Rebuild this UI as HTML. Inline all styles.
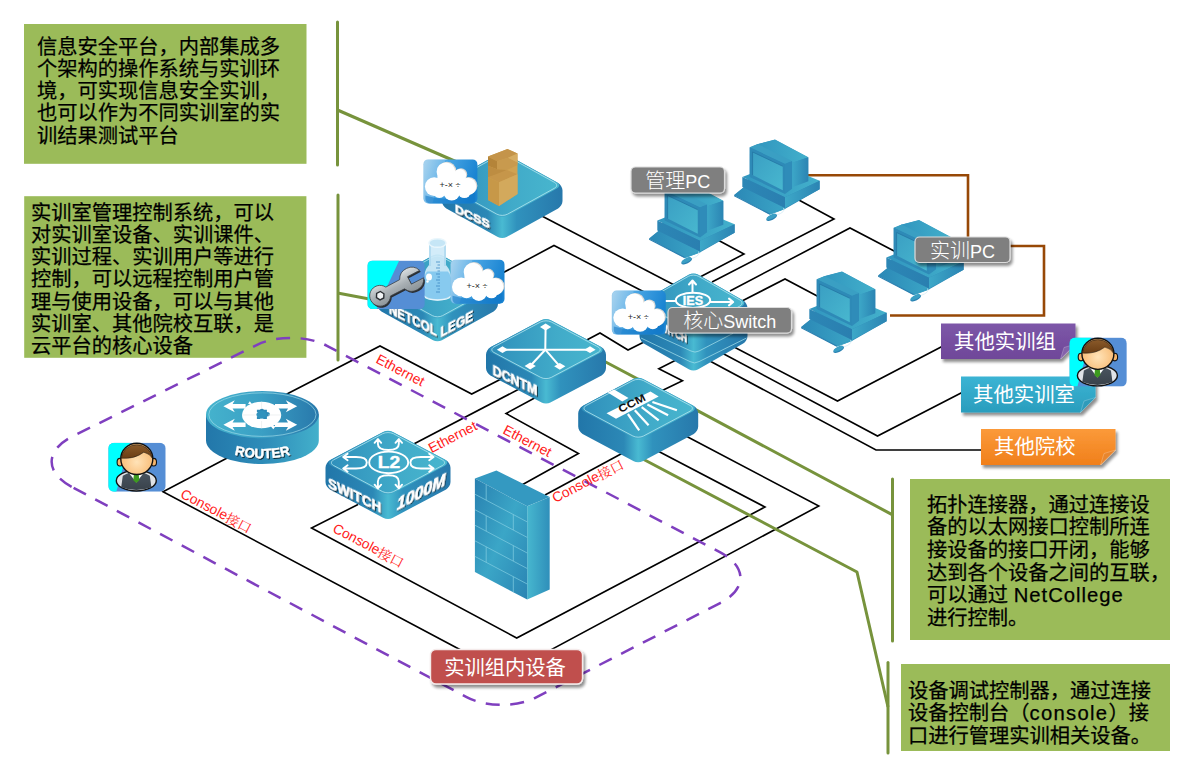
<!DOCTYPE html>
<html lang="zh"><head><meta charset="utf-8"><title>实训室拓扑</title>
<style>
html,body{margin:0;padding:0;background:#fff;}
body{width:1200px;height:780px;overflow:hidden;}
svg{display:block;}
text{font-family:"Liberation Sans","Noto Sans CJK SC",sans-serif;}
.cj{font-family:"Liberation Sans","Noto Sans CJK SC",sans-serif;}
.bd{font-family:"Liberation Sans",sans-serif;font-weight:bold;fill:#fff;}
</style></head><body>
<svg width="1200" height="780" viewBox="0 0 1200 780">
<defs>
<linearGradient id="gTop" x1="0" y1="0" x2="1" y2="0"><stop offset="0" stop-color="#2f8fbb"/><stop offset="0.6" stop-color="#41abc9"/><stop offset="1" stop-color="#48b6ce"/></linearGradient>
<linearGradient id="gSide" x1="0" y1="0" x2="1" y2="0"><stop offset="0" stop-color="#2176a9"/><stop offset="0.38" stop-color="#2c88b6"/><stop offset="0.5" stop-color="#49bad2"/><stop offset="0.62" stop-color="#3092bd"/><stop offset="1" stop-color="#2778ab"/></linearGradient>
<linearGradient id="gCloud" x1="0" y1="0" x2="1" y2="0.3"><stop offset="0" stop-color="#7fb9e6"/><stop offset="0.5" stop-color="#3e9ade"/><stop offset="1" stop-color="#1b80cc"/></linearGradient>
<linearGradient id="gPurple" x1="0" y1="0" x2="0" y2="1"><stop offset="0" stop-color="#7d57a8"/><stop offset="1" stop-color="#6f4799"/></linearGradient>
<linearGradient id="gTeal" x1="0" y1="0" x2="0" y2="1"><stop offset="0" stop-color="#3bb4d4"/><stop offset="1" stop-color="#2a9dbd"/></linearGradient>
<linearGradient id="gOrange" x1="0" y1="0" x2="0" y2="1"><stop offset="0" stop-color="#fb9a3a"/><stop offset="1" stop-color="#f07f1a"/></linearGradient>
<filter id="sh" x="-20%" y="-20%" width="150%" height="170%"><feGaussianBlur in="SourceAlpha" stdDeviation="1.6"/><feOffset dx="1.5" dy="2.5"/><feComponentTransfer><feFuncA type="linear" slope="0.45"/></feComponentTransfer><feMerge><feMergeNode/><feMergeNode in="SourceGraphic"/></feMerge></filter>
<filter id="tsh" x="-10%" y="-10%" width="130%" height="140%"><feGaussianBlur in="SourceAlpha" stdDeviation="0.45"/><feOffset dx="1" dy="0.9"/><feComponentTransfer><feFuncA type="linear" slope="0.75"/></feComponentTransfer><feMerge><feMergeNode/><feMergeNode in="SourceGraphic"/></feMerge></filter>
</defs>
<rect width="1200" height="780" fill="#fff"/>
<polyline points="538.0,214.0 680.0,288.0" fill="none" stroke="#000" stroke-width="1.6" stroke-linejoin="miter"/>
<polyline points="495.0,277.0 554.0,245.5 650.0,295.0" fill="none" stroke="#000" stroke-width="1.6" stroke-linejoin="miter"/>
<polyline points="285.0,395.0 380.0,346.0 471.7,394.0 505.0,377.0" fill="none" stroke="#000" stroke-width="1.6" stroke-linejoin="miter"/>
<polyline points="408.0,447.0 521.0,388.0" fill="none" stroke="#000" stroke-width="1.6" stroke-linejoin="miter"/>
<polyline points="520.0,486.0 578.5,453.5 506.0,413.5 542.0,394.0" fill="none" stroke="#000" stroke-width="1.6" stroke-linejoin="miter"/>
<polyline points="545.0,495.0 632.0,448.0" fill="none" stroke="#000" stroke-width="1.6" stroke-linejoin="miter"/>
<polyline points="682.0,357.0 658.8,368.8 682.5,380.8 655.0,394.0" fill="none" stroke="#000" stroke-width="1.6" stroke-linejoin="miter"/>
<polyline points="583.0,342.0 600.0,333.0 628.0,350.0 648.0,340.0" fill="none" stroke="#000" stroke-width="1.6" stroke-linejoin="miter"/>
<polyline points="716.0,239.0 744.0,254.0 700.0,277.0" fill="none" stroke="#000" stroke-width="1.6" stroke-linejoin="miter"/>
<polyline points="797.0,199.0 834.0,219.0 712.0,282.0" fill="none" stroke="#000" stroke-width="1.6" stroke-linejoin="miter"/>
<polyline points="896.0,252.0 850.0,228.0 730.0,291.0" fill="none" stroke="#000" stroke-width="1.6" stroke-linejoin="miter"/>
<polyline points="820.0,297.5 785.0,279.0 742.0,301.0" fill="none" stroke="#000" stroke-width="1.6" stroke-linejoin="miter"/>
<polyline points="735.0,347.5 837.5,401.0 942.0,346.5" fill="none" stroke="#000" stroke-width="1.6" stroke-linejoin="miter"/>
<polyline points="722.0,353.0 877.5,436.0 962.0,392.5" fill="none" stroke="#000" stroke-width="1.6" stroke-linejoin="miter"/>
<polyline points="708.0,360.0 876.0,450.0 982.0,450.0" fill="none" stroke="#000" stroke-width="1.6" stroke-linejoin="miter"/>
<polyline points="358.0,504.5 311.5,528.0 516.7,638.0 765.0,507.0 655.0,449.5" fill="none" stroke="#000" stroke-width="1.6" stroke-linejoin="miter"/>
<polyline points="230.0,456.5 163.0,491.7 506.0,674.0 818.8,506.0 684.0,435.0" fill="none" stroke="#000" stroke-width="1.6" stroke-linejoin="miter"/>
<polyline points="808,175.3 968,175.3 968,240" fill="none" stroke="#974806" stroke-width="2.6"/>
<polyline points="1008,246 1044,246 1044,315.5 890,315.5" fill="none" stroke="#974806" stroke-width="2.6"/>
<polyline points="337.5,110.0 458.0,162.5" fill="none" stroke="#77933c" stroke-width="3" stroke-linejoin="round"/>
<polyline points="337.5,293.0 372.0,299.5" fill="none" stroke="#77933c" stroke-width="3" stroke-linejoin="round"/>
<polyline points="600.0,359.0 697.9,410.9 892.1,514.6" fill="none" stroke="#77933c" stroke-width="3" stroke-linejoin="round"/>
<polyline points="640.0,457.5 857.0,572.0 888.0,707.0" fill="none" stroke="#77933c" stroke-width="3" stroke-linejoin="round"/>
<g id="dcss"><path d="M497.8,154.4 C500.2,153.1 504.2,153.1 506.6,154.4 L558.1,182.9 C560.5,184.2 562.5,187.5 562.5,190.3 L562.5,201.1 C562.5,203.9 560.5,207.2 558.1,208.5 L506.6,237.0 C504.2,238.3 500.2,238.3 497.8,237.0 L446.3,208.5 C443.9,207.2 441.9,203.9 441.9,201.1 L441.9,190.3 C441.9,187.5 443.9,184.2 446.3,182.9 Z" fill="url(#gSide)"/><path d="M496.5,155.1 C499.7,153.4 504.7,153.4 507.9,155.1 L556.8,182.2 C560.0,183.9 560.0,186.7 556.8,188.4 L507.9,215.5 C504.7,217.2 499.7,217.2 496.5,215.5 L447.6,188.4 C444.4,186.7 444.4,183.9 447.6,182.2 Z" fill="url(#gTop)"/><path d="M496.9,156.4 C499.8,154.8 504.6,154.8 507.5,156.4 L554.5,182.4 C557.4,184.0 557.4,186.6 554.5,188.2 L507.5,214.2 C504.6,215.8 499.8,215.8 496.9,214.2 L449.9,188.2 C447.0,186.6 447.0,184.0 449.9,182.4 Z" fill="none" stroke="#b4e6f0" stroke-width="1" opacity="0.8"/></g>
<g id="netcollege"><path d="M433.1,255.4 C435.5,254.1 439.5,254.1 441.9,255.4 L493.6,284.1 C496.0,285.4 498.0,288.7 498.0,291.5 L498.0,304.1 C498.0,306.9 496.0,310.2 493.6,311.5 L441.9,340.2 C439.5,341.5 435.5,341.5 433.1,340.2 L381.4,311.5 C379.0,310.2 377.0,306.9 377.0,304.1 L377.0,291.5 C377.0,288.7 379.0,285.4 381.4,284.1 Z" fill="url(#gSide)"/><path d="M431.8,256.1 C435.0,254.4 440.0,254.4 443.2,256.1 L492.3,283.4 C495.5,285.1 495.5,287.9 492.3,289.6 L443.2,316.9 C440.0,318.6 435.0,318.6 431.8,316.9 L382.7,289.6 C379.5,287.9 379.5,285.1 382.7,283.4 Z" fill="url(#gTop)"/><path d="M432.3,257.4 C435.2,255.8 439.8,255.8 442.7,257.4 L490.0,283.6 C492.9,285.2 492.9,287.8 490.0,289.4 L442.7,315.6 C439.8,317.2 435.2,317.2 432.3,315.6 L385.0,289.4 C382.1,287.8 382.1,285.2 385.0,283.6 Z" fill="none" stroke="#b4e6f0" stroke-width="1" opacity="0.8"/></g>
<g id="dcntm"><path d="M541.6,320.1 C544.0,318.8 548.0,318.8 550.4,320.1 L601.6,347.3 C604.0,348.6 606.0,351.9 606.0,354.7 L606.0,368.0 C606.0,370.8 604.0,374.1 601.6,375.4 L550.4,402.6 C548.0,403.9 544.0,403.9 541.6,402.6 L490.4,375.4 C488.0,374.1 486.0,370.8 486.0,368.0 L486.0,354.7 C486.0,351.9 488.0,348.6 490.4,347.3 Z" fill="url(#gSide)"/><path d="M540.3,320.8 C543.4,319.1 548.6,319.1 551.7,320.8 L600.3,346.6 C603.4,348.3 603.4,351.1 600.3,352.8 L551.7,378.6 C548.6,380.3 543.4,380.3 540.3,378.6 L491.7,352.8 C488.6,351.1 488.6,348.3 491.7,346.6 Z" fill="url(#gTop)"/><path d="M540.7,322.0 C543.6,320.4 548.4,320.4 551.3,322.0 L598.0,346.9 C600.9,348.4 600.9,351.0 598.0,352.5 L551.3,377.4 C548.4,379.0 543.6,379.0 540.7,377.4 L494.0,352.5 C491.1,351.0 491.1,348.4 494.0,346.9 Z" fill="none" stroke="#b4e6f0" stroke-width="1" opacity="0.8"/></g>
<g id="ccm"><path d="M633.8,378.7 C636.2,377.4 640.2,377.4 642.6,378.7 L693.8,405.9 C696.2,407.2 698.2,410.5 698.2,413.3 L698.2,426.6 C698.2,429.4 696.2,432.7 693.8,434.0 L642.6,461.2 C640.2,462.5 636.2,462.5 633.8,461.2 L582.6,434.0 C580.2,432.7 578.2,429.4 578.2,426.6 L578.2,413.3 C578.2,410.5 580.2,407.2 582.6,405.9 Z" fill="url(#gSide)"/><path d="M632.5,379.4 C635.6,377.7 640.8,377.7 643.9,379.4 L692.5,405.2 C695.6,406.9 695.6,409.7 692.5,411.4 L643.9,437.2 C640.8,438.9 635.6,438.9 632.5,437.2 L583.9,411.4 C580.8,409.7 580.8,406.9 583.9,405.2 Z" fill="url(#gTop)"/><path d="M632.9,380.6 C635.8,379.0 640.6,379.0 643.5,380.6 L690.2,405.5 C693.1,407.0 693.1,409.6 690.2,411.1 L643.5,436.0 C640.6,437.6 635.8,437.6 632.9,436.0 L586.2,411.1 C583.3,409.6 583.3,407.0 586.2,405.5 Z" fill="none" stroke="#b4e6f0" stroke-width="1" opacity="0.8"/></g>
<g id="core"><path d="M689.2,274.5 C691.6,273.1 695.4,273.1 697.8,274.5 L743.2,300.5 C745.6,301.9 747.5,305.2 747.5,308.0 L747.5,336.0 C747.5,338.8 745.6,342.1 743.2,343.5 L697.8,369.5 C695.4,370.9 691.6,370.9 689.2,369.5 L643.8,343.5 C641.4,342.1 639.5,338.8 639.5,336.0 L639.5,308.0 C639.5,305.2 641.4,301.9 643.8,300.5 Z" fill="url(#gSide)"/><path d="M687.9,275.2 C691.0,273.4 696.0,273.4 699.1,275.2 L741.9,299.8 C745.0,301.6 745.0,304.4 741.9,306.2 L699.1,330.8 C696.0,332.6 691.0,332.6 687.9,330.8 L645.1,306.2 C642.0,304.4 642.0,301.6 645.1,299.8 Z" fill="url(#gTop)"/><path d="M688.3,276.4 C691.2,274.7 695.8,274.7 698.7,276.4 L739.9,300.0 C742.7,301.7 742.7,304.3 739.9,306.0 L698.7,329.6 C695.8,331.3 691.2,331.3 688.3,329.6 L647.1,306.0 C644.3,304.3 644.3,301.7 647.1,300.0 Z" fill="none" stroke="#b4e6f0" stroke-width="1" opacity="0.8"/></g>
<g id="l2"><path d="M383.6,431.8 C386.0,430.5 390.0,430.5 392.4,431.8 L446.1,460.3 C448.5,461.6 450.5,464.9 450.5,467.7 L450.5,482.0 C450.5,484.8 448.5,488.1 446.1,489.4 L392.4,517.9 C390.0,519.2 386.0,519.2 383.6,517.9 L329.9,489.4 C327.5,488.1 325.5,484.8 325.5,482.0 L325.5,467.7 C325.5,464.9 327.5,461.6 329.9,460.3 Z" fill="url(#gSide)"/><path d="M382.3,432.5 C385.4,430.8 390.6,430.8 393.7,432.5 L444.8,459.6 C447.9,461.3 447.9,464.1 444.8,465.8 L393.7,492.9 C390.6,494.6 385.4,494.6 382.3,492.9 L331.2,465.8 C328.1,464.1 328.1,461.3 331.2,459.6 Z" fill="url(#gTop)"/><path d="M382.7,433.7 C385.6,432.2 390.4,432.2 393.3,433.7 L442.4,459.9 C445.3,461.4 445.3,464.0 442.4,465.5 L393.3,491.7 C390.4,493.2 385.6,493.2 382.7,491.7 L333.6,465.5 C330.7,464.0 330.7,461.4 333.6,459.9 Z" fill="none" stroke="#b4e6f0" stroke-width="1" opacity="0.8"/></g>
<defs><linearGradient id="gRT" x1="0" y1="0" x2="1" y2="0"><stop offset="0" stop-color="#45b3cd"/><stop offset="0.5" stop-color="#3a9fc4"/><stop offset="1" stop-color="#2878ab"/></linearGradient>
<linearGradient id="gRS" x1="0" y1="0" x2="1" y2="0"><stop offset="0" stop-color="#2277aa"/><stop offset="0.55" stop-color="#2f8eba"/><stop offset="1" stop-color="#43b0cb"/></linearGradient></defs>
<g id="router"><path d="M206,414.6 v26 a56.4,23.5 0 0 0 112.8,0 v-26 z" fill="url(#gRS)"/>
<ellipse cx="262.4" cy="414.6" rx="56.4" ry="23.6" fill="url(#gRT)"/>
<ellipse cx="262.4" cy="414.6" rx="53.6" ry="21.8" fill="none" stroke="#a6e0ec" stroke-width="0.9" opacity="0.7"/></g>
<defs>
<linearGradient id="gScr" x1="0" y1="0" x2="1" y2="1"><stop offset="0" stop-color="#3a9fc3"/><stop offset="1" stop-color="#48b7cf"/></linearGradient>
<linearGradient id="gPcR" x1="0" y1="0" x2="1" y2="0"><stop offset="0" stop-color="#3da8c8"/><stop offset="1" stop-color="#2b84b3"/></linearGradient>
<linearGradient id="gPcL" x1="0" y1="0" x2="1" y2="0"><stop offset="0" stop-color="#2c86b5"/><stop offset="1" stop-color="#2a7fb0"/></linearGradient>
<linearGradient id="gPcT" x1="0" y1="0" x2="1" y2="0"><stop offset="0" stop-color="#3196bf"/><stop offset="1" stop-color="#43b0cb"/></linearGradient>
<linearGradient id="gKb" x1="0" y1="0" x2="1" y2="0"><stop offset="0" stop-color="#2b88b6"/><stop offset="1" stop-color="#3ba5c6"/></linearGradient>
<g id="pc">
<polygon points="70,489 138,434 186,333 186,131 244,106 375,73 624,206 624,383 709,381 709,444 452,591 336,634" fill="#2f8cb9"/>
<polygon points="68,488 140,430 452,584 335,627" fill="url(#gKb)"/>
<polygon points="68,488 335,627 335,636 68,497" fill="#2a7fb0"/>
<polygon points="335,627 452,584 452,592 335,636" fill="#3aa2c4"/>
<polygon points="130,352 390,250 710,380 450,505" fill="url(#gPcT)"/>
<polygon points="130,352 450,505 450,585 130,428" fill="url(#gPcL)"/>
<polygon points="450,505 710,380 710,445 450,585" fill="url(#gPcR)"/>
<polygon points="240,107 375,72 625,205 500,250" fill="url(#gPcT)"/>
<polygon points="500,245 625,205 625,385 500,432" fill="url(#gPcR)"/>
<polygon points="185,130 245,105 503,232 450,255" fill="#3a9fc3"/>
<polygon points="450,255 503,232 503,440 450,480" fill="#2f8cb9"/>
<polygon points="185,130 450,255 450,480 185,352" fill="#2e8ab7"/>
<polygon points="207,165 433,272 433,452 207,338" fill="url(#gScr)"/>
<polyline points="207,338 207,165 433,272" fill="none" stroke="#1f6f9f" stroke-width="5"/>
<path d="M440,585 q15,30 -50,52" fill="none" stroke="#d6ecf5" stroke-width="6"/>
<ellipse cx="350" cy="657" rx="44" ry="19" transform="rotate(-27 350 657)" fill="#2a82b2"/>
<ellipse cx="348" cy="651" rx="40" ry="15" transform="rotate(-27 348 651)" fill="#3a9fc4"/>
</g>
<linearGradient id="gFwF" x1="0" y1="0" x2="1" y2="1"><stop offset="0" stop-color="#2880b0"/><stop offset="0.5" stop-color="#3ba6c7"/><stop offset="1" stop-color="#2a84b3"/></linearGradient>
<linearGradient id="gFwR" x1="0" y1="0" x2="1" y2="0"><stop offset="0" stop-color="#47b7cf"/><stop offset="1" stop-color="#2f8fba"/></linearGradient>
</defs>
<use href="#pc" transform="translate(725,130) scale(0.13333)"/>
<use href="#pc" transform="translate(640,173.5) scale(0.13333)"/>
<use href="#pc" transform="translate(869,210.5) scale(0.13333)"/>
<use href="#pc" transform="translate(792,262) scale(0.13333)"/>
<g id="firewall"><polygon points="474.9,478.6 496.4,470.4 549.7,497 527.2,506.3" fill="#3499c1"/><polygon points="527.2,506.3 549.7,497 549.7,589.4 527.2,599.6" fill="url(#gFwR)"/><polygon points="474.9,478.6 527.2,506.3 527.2,599.6 474.9,571.9" fill="url(#gFwF)"/><path d="M474.9,494.2 L527.2,521.9 M474.9,509.7 L527.2,537.4 M474.9,525.2 L527.2,553.0 M474.9,540.8 L527.2,568.5 M474.9,556.4 L527.2,584.0 M486.2,484.6 v15.5 M513.3,514.5 v15.5 M486.2,515.7 v15.5 M513.3,545.6 v15.5 M486.2,546.8 v15.5 M513.3,576.7 v15.5 " fill="none" stroke="#86d0e3" stroke-width="0.8" opacity="0.85"/></g>
<defs>
<linearGradient id="gCl" x1="0" y1="0" x2="1" y2="0.25"><stop offset="0" stop-color="#9ccdec"/><stop offset="0.42" stop-color="#4aa6e4"/><stop offset="1" stop-color="#1a84d2"/></linearGradient>
<g id="cloud">
<rect width="54" height="44" rx="4.8" fill="url(#gCl)"/>
<path d="M0.4,5 a4.6,4.6 0 0 1 4.6,-4.6 h17 L9,43.6 h-4 a4.6,4.6 0 0 1 -4.6,-4.6 z" fill="#fff" opacity="0.16"/>
<path d="M2,36 q25,8 50,-3 v6.5 a4.5,4.5 0 0 1 -4.5,4.5 h-41 a4.5,4.5 0 0 1 -4.5,-4.5 z" fill="#0f74c4" opacity="0.55"/>
<g fill="#dcdad6" transform="translate(1.1,-0.7)"><circle cx="22.5" cy="12.3" r="9.3"/><circle cx="36.5" cy="15.8" r="6.2"/><circle cx="44.3" cy="27" r="8.6"/></g>
<g fill="#fff"><circle cx="22.5" cy="12.3" r="9.3"/><circle cx="36.5" cy="15.8" r="6.2"/><circle cx="10.8" cy="27.2" r="9.3"/><circle cx="44.3" cy="27" r="8.6"/><circle cx="16" cy="32" r="6.6"/><circle cx="28.3" cy="33.2" r="8"/><circle cx="41" cy="32.2" r="6.4"/><rect x="14" y="16" width="28" height="20"/></g>
<text x="26.5" y="29" font-size="9" text-anchor="middle" fill="#2a2a2a" font-family="Liberation Sans, sans-serif">+-× ÷</text>
</g>
<linearGradient id="gWr" x1="0" y1="0" x2="0" y2="1"><stop offset="0" stop-color="#d9dee0"/><stop offset="0.5" stop-color="#a9b0b4"/><stop offset="1" stop-color="#8a9297"/></linearGradient>
<clipPath id="cpIc"><rect width="57.4" height="48.5" rx="5.2"/></clipPath>
<g id="wrench">
<g clip-path="url(#cpIc)"><rect width="57.4" height="48.5" fill="#558ed5"/><polygon points="0,0 31.8,0 9.1,48.5 0,48.5" fill="#00ffff"/></g>
<g transform="translate(12.8,35.1) rotate(-27.6)">
<path transform="translate(0.4,1.9)" d="M9,-5 L24.69,-5.2 A12,12 0 0 1 46.74,-4.2 L33,-4.2 L33,4.2 L46.74,4.2 A12,12 0 0 1 24.69,5.2 L9,5 A10.4,10.4 0 1 1 9,-5 Z" fill="#2b2f33"/>
<path d="M9,-5 L24.69,-5.2 A12,12 0 0 1 46.74,-4.2 L33,-4.2 L33,4.2 L46.74,4.2 A12,12 0 0 1 24.69,5.2 L9,5 A10.4,10.4 0 1 1 9,-5 Z" fill="url(#gWr)" stroke="#3a3f44" stroke-width="0.7"/>
<polygon points="4.2,0 2.1,3.65 -2.1,3.65 -4.2,0 -2.1,-3.65 2.1,-3.65" fill="#f2f5f7" stroke="#2b2f33" stroke-width="1.4"/>
</g></g>
<clipPath id="cpUs"><rect width="57.4" height="49" rx="5.8"/></clipPath>
<radialGradient id="gFace" cx="0.5" cy="0.6" r="0.6"><stop offset="0" stop-color="#ffe3b8"/><stop offset="1" stop-color="#f7b66c"/></radialGradient>
<linearGradient id="gHair" x1="0" y1="0" x2="0" y2="1"><stop offset="0" stop-color="#8a5a2a"/><stop offset="1" stop-color="#6a3d14"/></linearGradient>
<linearGradient id="gVest" x1="0" y1="0" x2="0" y2="1"><stop offset="0" stop-color="#4a5560"/><stop offset="1" stop-color="#39424b"/></linearGradient>
<g id="user">
<g clip-path="url(#cpUs)"><rect width="57.4" height="49" fill="#558ed5"/><polygon points="0,0 21.5,0 8,49 0,49" fill="#00ffff"/></g>
<ellipse cx="28" cy="38" rx="20" ry="10.3" fill="#dfe2e6" stroke="#111" stroke-width="1.4"/>
<path d="M14.5,33 q13.5,-8 27,0 l1.6,11.5 q-15,5.6 -30.2,0 z" fill="url(#gVest)"/>
<polygon points="20.5,30 35.5,30 28,39.8" fill="#fff"/>
<polygon points="25.6,31.5 30.4,31.5 31,37.5 28,40.2 25,37.5" fill="#3d9b1f"/>
<ellipse cx="11.6" cy="19.5" rx="2.8" ry="3.8" fill="#f7b66c" stroke="#111" stroke-width="1.1"/><ellipse cx="45.4" cy="19.5" rx="2.8" ry="3.8" fill="#f7b66c" stroke="#111" stroke-width="1.1"/>
<ellipse cx="28.5" cy="16.2" rx="16" ry="15.6" fill="url(#gFace)" stroke="#111" stroke-width="1.4"/>
<path d="M12.9,15.5 a15.7,15.2 0 0 1 31.2,0 q-2.5,-4.5 -8.6,-6 q-9.5,7.2 -22.6,6 z" fill="url(#gHair)" stroke="#111" stroke-width="0.5"/>
</g>
</defs>
<text class="bd" transform="matrix(1.06,0.4982,0,1,455,212.2)" font-size="11.8" stroke="#fff" stroke-width="0.6" stroke-linejoin="round" filter="url(#tsh)" >DCSS</text>
<g transform="translate(478,140) scale(0.1)">
<polygon points="100,165 295,90 395,135 395,540 210,660 100,600" fill="#cfa252"/>
<polygon points="100,165 295,90 395,135 300,178 190,212" fill="#c4944a"/>
<polygon points="100,168 190,212 190,292 100,258" fill="#b48439"/>
<polygon points="190,212 300,178 395,225 395,250 290,300 190,292" fill="#c89a4e"/>
<polygon points="300,178 395,135 395,225" fill="#d6ad63"/>
<polygon points="100,258 190,292 290,300 210,345 100,372" fill="#bd8d42"/>
<polygon points="100,372 290,300 395,342 210,422" fill="#c6964a"/>
<polygon points="100,372 210,422 210,660 100,600" fill="#c79848"/>
<polygon points="210,422 395,342 395,540 210,660" fill="#d3a95c"/>
</g>
<use href="#cloud" x="423.4" y="159.4" />
<text class="bd" transform="matrix(0.82,0.3936,0,1,388.9,313.2)" font-size="14.2" stroke="#fff" stroke-width="0.6" stroke-linejoin="round" filter="url(#tsh)" >NETCOL</text>
<text class="bd" transform="matrix(0.85,-0.4505,0,1,440.4,337.4)" font-size="14.2" stroke="#fff" stroke-width="0.6" stroke-linejoin="round" filter="url(#tsh)" >LEGE</text>
<g id="flask">
<path d="M429,243 v22 q-6,6 -6,22 v7 a14.5,6.5 0 0 0 29,0 v-7 q0,-16 -6,-22 v-22 z" fill="#cfeaf8" opacity="0.92"/>
<path d="M423.3,281 q1,-7 4,-9.5 h20.5 q3,3 4,9.5 v13 a14.5,6.5 0 0 1 -28.5,0 z" fill="#84c8ee" opacity="0.95"/>
<path d="M430,245 v21 M445,245 v21" stroke="#a9d6ee" stroke-width="1.4" fill="none"/>
<ellipse cx="437.5" cy="243" rx="8.6" ry="4.3" fill="#c6e6f6" stroke="#e9f6fc" stroke-width="1.4"/>
<path d="M436,262 h4 M437.5,265 h2.5 M436,268 h4 M437.5,271 h2.5 M436,274 h4 M437.5,277 h2.5 M436,280 h4 M437.5,283 h2.5 M436,286 h4 M437.5,289 h2.5 M436,292 h4" stroke="#2f7fbf" stroke-width="0.7"/>
<ellipse cx="429" cy="277" rx="3" ry="3.6" fill="#fff"/><circle cx="427.5" cy="281.5" r="1.2" fill="#fff"/>
<path d="M424,296 a13.8,5.2 0 0 0 27,0" fill="none" stroke="#eaf7fd" stroke-width="1.1"/>
</g>
<use href="#wrench" x="367.4" y="260.6" />
<use href="#cloud" x="450.5" y="259.7" />
<g stroke="#fff" stroke-width="2" fill="#fff" stroke-linecap="round"><line x1="545.3" y1="349.7" x2="545.6" y2="327"/><polygon points="540.0,327 545.6,323.6 551.2,327 545.6,330.4" stroke="none"/><line x1="545.3" y1="349.7" x2="502.5" y2="349.7"/><polygon points="496.9,349.7 502.5,346.3 508.1,349.7 502.5,353.09999999999997" stroke="none"/><line x1="545.3" y1="349.7" x2="590" y2="349.7"/><polygon points="584.4,349.7 590,346.3 595.6,349.7 590,353.09999999999997" stroke="none"/><line x1="545.3" y1="349.7" x2="530.2" y2="366"/><polygon points="524.6,366 530.2,362.6 535.8000000000001,366 530.2,369.4" stroke="none"/><line x1="545.3" y1="349.7" x2="559.8" y2="366.3"/><polygon points="554.1999999999999,366.3 559.8,362.90000000000003 565.4,366.3 559.8,369.7" stroke="none"/></g>
<text class="bd" transform="matrix(0.85,0.3995,0,1,492.6,374.6)" font-size="14.6" stroke="#fff" stroke-width="0.6" stroke-linejoin="round" filter="url(#tsh)" >DCNTM</text>
<g fill="#fff">
<polygon points="606.5,413.3 650.5,391.4 658.7,396.4 616,418.7"/>
<polygon points="607.8,392.6 614.1,389.5 628.5,397.9 622.3,401.4"/>
<g stroke="#fff" stroke-width="2.2" stroke-linecap="butt"><line x1="652.4" y1="402" x2="676.9" y2="410.2"/><line x1="647.4" y1="404.5" x2="668.1" y2="415.2"/><line x1="641.7" y1="407.1" x2="658.7" y2="420.3"/><line x1="634.8" y1="410.2" x2="648.6" y2="425.3"/><line x1="627.9" y1="414" x2="639.2" y2="430.3"/></g>
</g>
<text transform="translate(620.6,413) rotate(-26.6) scale(1.2,1)" font-size="10.6" font-weight="bold" fill="#111" font-family="Liberation Sans, sans-serif">CCM</text>
<g fill="none" stroke="#fff" stroke-width="2" stroke-linecap="round" stroke-linejoin="round">
<ellipse cx="693" cy="300.3" rx="17.2" ry="7.6"/>
<path d="M692.5,292.5 v-11 M689,284.5 l3.5,-4 l3.5,4"/>
<path d="M710.3,302 h22.5 M729,298.6 l4.2,3.4 l-4.2,3.4"/>
<path d="M675.7,301 h-14"/>
</g>
<text class="bd" x="693" y="305" font-size="12.6" text-anchor="middle" stroke="#fff" stroke-width="0.4">IES</text>
<text class="bd" transform="matrix(0.83,0.3901,0,1,654.2,327.4)" font-size="10" stroke="#fff" stroke-width="0.6" stroke-linejoin="round" filter="url(#tsh)" >SWITCH</text>
<path d="M641,338 L690,361.6 Q694.5,364.3 699,361.6 L746.5,338 M652,333.4 L691,351 Q695,353.2 699,351 L733,333.4" fill="none" stroke="#a6e0ec" stroke-width="0.9" opacity="0.8" stroke-linejoin="round"/>
<use href="#cloud" x="611.8" y="290.6" />
<g fill="none" stroke="#fff" stroke-width="1.9" stroke-linecap="round" stroke-linejoin="round">
<ellipse cx="388.7" cy="462.4" rx="19.5" ry="10.8"/>
<path d="M343.4,457 H356 Q366.8,457 366.8,462.4 Q366.8,468.5 356,468.5 H343.4 M347.6,453.8 l-4.4,3.2 l4.4,3.2 M347.6,465.3 l-4.4,3.2 l4.4,3.2"/>
<path d="M433.4,457 H421 Q410.4,457 410.4,462.4 Q410.4,468.5 421,468.5 H433.4 M429.2,453.8 l4.4,3.2 l-4.4,3.2 M429.2,465.3 l4.4,3.2 l-4.4,3.2"/>
<path d="M377.9,439.3 V444 Q377.9,450 388.4,450 Q398.8,450 398.8,444 V439.3 M374.6,442.8 l3.3,-3.8 l3.3,3.8 M395.5,442.8 l3.3,-3.8 l3.3,3.8"/>
<path d="M377.9,488.2 V481.5 Q377.9,475.2 388.4,475.2 Q398.8,475.2 398.8,481.5 V488.2 M374.6,484.7 l3.3,3.8 l3.3,-3.8 M395.5,484.7 l3.3,3.8 l3.3,-3.8"/>
</g>
<text class="bd" transform="translate(388.9,468.3) scale(1.2,1)" font-size="16" text-anchor="middle" stroke="#fff" stroke-width="0.4">L2</text>
<text class="bd" transform="matrix(0.9,0.4320,0,1,328,487.4)" font-size="15" stroke="#fff" stroke-width="0.6" stroke-linejoin="round" filter="url(#tsh)" >SWITCH</text>
<text class="bd" transform="matrix(1,-0.52,0,1,396.7,510.4)" font-size="16" font-style="italic" stroke="#fff" stroke-width="0.6" stroke-linejoin="round" filter="url(#tsh)">1000M</text>
<g fill="#fff"><path d="M223.4,406.2 l11.4,-6 l-2.2,3.8 h13 v4.4 h-13 l2.2,3.8 z"/><path d="M223.4,424.8 l11.4,-6 l-2.2,3.8 h13 v4.4 h-13 l2.2,3.8 z"/><path d="M297.2,406.2 l-11.4,-6 l2.2,3.8 h-13 v4.4 h13 l-2.2,3.8 z"/><path d="M297.2,424.8 l-11.4,-6 l2.2,3.8 h-13 v4.4 h13 l-2.2,3.8 z"/><ellipse cx="261.6" cy="415" rx="19.6" ry="13.3"/>
<path d="M248,403.8 l1.8,-2.6 l2.6,3.6 z M275.5,426.2 l-2.2,3 l-3.4,-4 z"/></g>
<path d="M257.5,409.3 h3 a2.2,1.6 0 0 1 4,0 h3 v2.4 a2.4,1.8 0 0 1 0,4.4 v2.6 h-3.2 a2.2,1.6 0 0 0 -4,0 h-2.8 v-2.6 a2.4,1.8 0 0 0 0,-4.4 z" fill="#2f8ab7" transform="translate(-0.6,0.4) scale(1.0)"/>
<ellipse cx="261.6" cy="414.6" rx="5.2" ry="3.8" fill="#3192bd"/>
<path d="M261.6,401.7 v7 M261.6,421 v7.3 M242,415 h13.5 M268,415 h13.2" stroke="#e3e7ea" stroke-width="0.6" fill="none"/>
<path id="rtp" d="M206,431.7 A56.4,26.5 0 0 0 318.8,431.7" fill="none"/>
<text class="bd" font-size="13.4" filter="url(#tsh)" stroke="#fff" stroke-width="0.3"><textPath href="#rtp" startOffset="50%" text-anchor="middle">ROUTER</textPath></text>
<rect x="24" y="24" width="282.5" height="139.8" fill="#9bbb59"/>
<text class="cj" font-size="20.25" fill="#000" stroke="#000" stroke-width="0.25"><tspan x="37" y="53.5">信息安全平台，内部集成多</tspan><tspan x="37" y="75.8">个架构的操作系统与实训环</tspan><tspan x="37" y="98.1">境，可实现信息安全实训，</tspan><tspan x="37" y="120.4">也可以作为不同实训室的实</tspan><tspan x="37" y="142.7">训结果测试平台</tspan></text>
<rect x="24.2" y="196.2" width="282.2" height="161.6" fill="#9bbb59"/>
<text class="cj" font-size="20.25" fill="#000" stroke="#000" stroke-width="0.25"><tspan x="31" y="219.5">实训室管理控制系统，可以</tspan><tspan x="31" y="241.8">对实训室设备、实训课件、</tspan><tspan x="31" y="264.1">实训过程、实训用户等进行</tspan><tspan x="31" y="286.4">控制，可以远程控制用户管</tspan><tspan x="31" y="308.7">理与使用设备，可以与其他</tspan><tspan x="31" y="331.0">实训室、其他院校互联，是</tspan><tspan x="31" y="353.3">云平台的核心设备</tspan></text>
<rect x="910" y="479" width="260" height="161" fill="#9bbb59"/>
<text class="cj" font-size="20.25" fill="#000" stroke="#000" stroke-width="0.25"><tspan x="927" y="511.5">拓扑连接器，通过连接设</tspan><tspan x="927" y="534.2">备的以太网接口控制所连</tspan><tspan x="927" y="556.9">接设备的接口开闭，能够</tspan><tspan x="927" y="579.6">达到各个设备之间的互联，</tspan><tspan x="927" y="602.3">可以通过 <tspan letter-spacing="1">NetCollege</tspan></tspan><tspan x="927" y="625.0">进行控制。</tspan></text>
<rect x="901" y="664" width="269" height="87" fill="#9bbb59"/>
<text class="cj" font-size="20.25" fill="#000" stroke="#000" stroke-width="0.25"><tspan x="908" y="697.5">设备调试控制器，通过连接</tspan><tspan x="908" y="720.0">设备控制台（<tspan letter-spacing="1.3">console</tspan>）接</tspan><tspan x="908" y="742.5">口进行管理实训相关设备。</tspan></text>
<path d="M71.6,486.8 C44.7,472.6 45.1,450.1 72.3,436.5 L257.1,344.8 C276.4,335.3 307.5,335.6 326.5,345.6 L720.3,552.4 C747.2,566.6 747.1,589.2 720.1,603.1 L535.7,697.6 C516.5,707.4 485.6,707.2 466.6,697.1 Z" fill="none" stroke="#7f3fbf" stroke-width="2.5" stroke-dasharray="14 10.5"/>
<line x1="337.5" y1="22" x2="337.5" y2="165" stroke="#77933c" stroke-width="3" stroke-linecap="round"/>
<line x1="338" y1="195" x2="338" y2="360" stroke="#77933c" stroke-width="3" stroke-linecap="round"/>
<line x1="892.5" y1="479" x2="892.5" y2="641" stroke="#77933c" stroke-width="3" stroke-linecap="round"/>
<line x1="888" y1="662.5" x2="888" y2="753" stroke="#77933c" stroke-width="3" stroke-linecap="round"/>
<g filter="url(#sh)"><rect x="631" y="167" width="93.5" height="26" rx="4.5" fill="#7f7f7f" stroke="#dcdcdc" stroke-width="1.2"/></g>
<text class="cj" x="677.75" y="187.8" font-size="20" font-weight="300" fill="#fff" text-anchor="middle">管理<tspan font-size="18">PC</tspan></text>
<g filter="url(#sh)"><rect x="915" y="237" width="95" height="25.5" rx="4.5" fill="#7f7f7f" stroke="#dcdcdc" stroke-width="1.2"/></g>
<text class="cj" x="962.5" y="257.55" font-size="20" font-weight="300" fill="#fff" text-anchor="middle">实训<tspan font-size="18">PC</tspan></text>
<g filter="url(#sh)"><rect x="668" y="307.5" width="123.5" height="25.5" rx="4.5" fill="#7f7f7f" stroke="#dcdcdc" stroke-width="1.2"/></g>
<text class="cj" x="729.75" y="328.05" font-size="20" font-weight="300" fill="#fff" text-anchor="middle">核心<tspan font-size="18">Switch</tspan></text>
<g filter="url(#sh)"><rect x="430.5" y="649.5" width="152" height="34.5" rx="5.5" fill="#c0504d" stroke="#f4eaea" stroke-width="1.4"/></g>
<text class="cj" x="505" y="674.5" font-size="20.3" fill="#fff" text-anchor="middle">实训组内设备</text>
<g filter="url(#sh)"><path d="M941,323.5 h134.5 v20.5 l-15,15 h-119.5 z" fill="url(#gPurple)"/><path d="M1075.5,344.0 l-15,15 l3.5,-11.5 z" fill="#8462ab" stroke="#fff" stroke-opacity="0.28" stroke-width="0.8" stroke-linejoin="round"/></g>
<text class="cj" x="954" y="348.55" font-size="20.4" fill="#fff">其他实训组</text>
<g filter="url(#sh)"><path d="M961,376.5 h134.5 v21 l-15,15 h-119.5 z" fill="url(#gTeal)"/><path d="M1095.5,397.5 l-15,15 l3.5,-11.5 z" fill="#2f9bbb" stroke="#fff" stroke-opacity="0.28" stroke-width="0.8" stroke-linejoin="round"/></g>
<text class="cj" x="973" y="401.8" font-size="20.4" fill="#fff">其他实训室</text>
<g filter="url(#sh)"><path d="M981,429 h134.5 v21 l-15,15 h-119.5 z" fill="url(#gOrange)"/><path d="M1115.5,450 l-15,15 l3.5,-11.5 z" fill="#e8862e" stroke="#fff" stroke-opacity="0.28" stroke-width="0.8" stroke-linejoin="round"/></g>
<text class="cj" x="994" y="454.3" font-size="20.4" fill="#fff">其他院校</text>
<text transform="translate(400.5,370) rotate(27.5)" font-size="13.9" fill="#ff2020" text-anchor="middle" dominant-baseline="central" font-family="Liberation Sans, sans-serif">Ethernet</text>
<text transform="translate(452.5,436.75) rotate(-27.5)" font-size="13.9" fill="#ff2020" text-anchor="middle" dominant-baseline="central" font-family="Liberation Sans, sans-serif">Ethernet</text>
<text transform="translate(527.5,440.75) rotate(27.5)" font-size="13.9" fill="#ff2020" text-anchor="middle" dominant-baseline="central" font-family="Liberation Sans, sans-serif">Ethernet</text>
<text transform="translate(216.5,510.5) rotate(27.5)" font-size="13.9" fill="#ff2020" text-anchor="middle" dominant-baseline="central" font-family="Liberation Sans, sans-serif">Console<tspan font-family="Noto Serif CJK SC, serif" font-size="13.6">接口</tspan></text>
<text transform="translate(368.75,545) rotate(27.5)" font-size="13.9" fill="#ff2020" text-anchor="middle" dominant-baseline="central" font-family="Liberation Sans, sans-serif">Console<tspan font-family="Noto Serif CJK SC, serif" font-size="13.6">接口</tspan></text>
<text transform="translate(587.5,480.6) rotate(-27.5)" font-size="13.9" fill="#ff2020" text-anchor="middle" dominant-baseline="central" font-family="Liberation Sans, sans-serif">Console<tspan font-family="Noto Serif CJK SC, serif" font-size="13.6">接口</tspan></text>
<use href="#user" x="108.3" y="442.7" />
<use href="#user" x="1069.4" y="337.6" />
</svg>
</body></html>
